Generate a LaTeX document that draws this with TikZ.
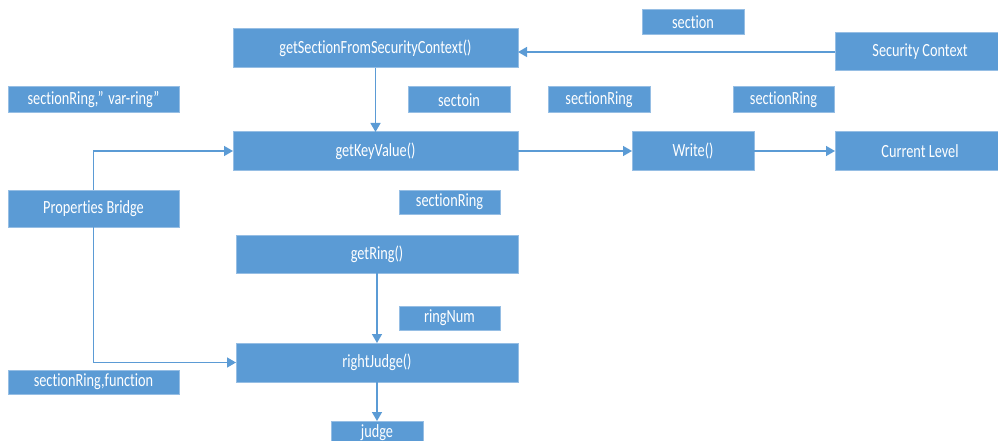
\documentclass[tikz,border=0pt]{standalone}
\usepackage{fontspec}
\setmainfont{Carlito}[Ligatures=CommonOff]
\usetikzlibrary{arrows.meta}
\definecolor{boxblue}{RGB}{91,155,213}
\definecolor{edgeblue}{RGB}{150,190,228}
\definecolor{linkblue}{RGB}{91,155,213}
\tikzset{
  box/.style={rectangle, fill=boxblue, draw=edgeblue, line width=1pt, inner sep=0pt, outer sep=0pt,
    text=white, font=\fontsize{14.3}{16}\selectfont},
  link/.style={draw=linkblue, line width=1.4pt, -{Triangle[length=9pt,width=10pt]}}
}
\newcommand{\tx}[1]{\scalebox{1}[1.3]{#1}}
\begin{document}
\begin{tikzpicture}[x=1pt,y=-1pt]
\useasboundingbox (0,0) rectangle (998,441);
\clip (0,0) rectangle (998,441);
\node[box, minimum width=285pt, minimum height=39pt] (gs) at (375.5,48.5) {\tx{getSectionFromSecurityContext()}};
\node[box, minimum width=102pt, minimum height=25pt] (sec) at (693,22.5) {\tx{section}};
\node[box, minimum width=170pt, minimum height=38pt] (sc) at (920,52) {\tx{Security Context}};
\node[box, minimum width=171pt, minimum height=26pt] (srv) at (93.5,100) {\tx{sectionRing,\char"0022\,\,var-ring\char"0022}};
\node[box, minimum width=102pt, minimum height=26pt] (sct) at (459,100) {\tx{sectoin}};
\node[box, minimum width=102pt, minimum height=26pt] (sra) at (599,100) {\tx{sectionRing}};
\node[box, minimum width=101pt, minimum height=26pt] (srb) at (783.5,100) {\tx{sectionRing}};
\node[box, minimum width=285pt, minimum height=38pt] (gk) at (375.5,151) {\tx{getKeyValue()}};
\node[box, minimum width=122pt, minimum height=38pt] (wr) at (693,151) {\tx{Write()}};
\node[box, minimum width=170pt, minimum height=38pt] (cl) at (920,151) {\tx{Current Level}};
\node[box, minimum width=171pt, minimum height=37pt] (pb) at (93.5,208.5) {\tx{Properties Bridge}};
\node[box, minimum width=101pt, minimum height=24pt] (src) at (449.5,202) {\tx{sectionRing}};
\node[box, minimum width=282pt, minimum height=38pt] (gr) at (377,254) {\tx{getRing()}};
\node[box, minimum width=101pt, minimum height=24pt] (rn) at (449.5,318) {\tx{ringNum}};
\node[box, minimum width=282pt, minimum height=39pt] (rj) at (377,362.5) {\tx{rightJudge()}};
\node[box, minimum width=171pt, minimum height=24pt] (sf) at (93.5,382) {\tx{sectionRing,function}};
\node[box, minimum width=92pt, minimum height=24pt] (ju) at (377,433) {\tx{judge}};
\draw[link] (gs.south) -- (gk.north);
\draw[link] (sc.west) -- (gs.east |- sc.west);
\draw[link] (pb.north) |- (gk.west);
\draw[link] (pb.south) |- (rj.west);
\draw[link] (gk.east) -- (wr.west);
\draw[link] (wr.east) -- (cl.west);
\draw[link] (gr.south) -- (rj.north);
\draw[link] (rj.south) -- (ju.north);
\end{tikzpicture}
\end{document}
